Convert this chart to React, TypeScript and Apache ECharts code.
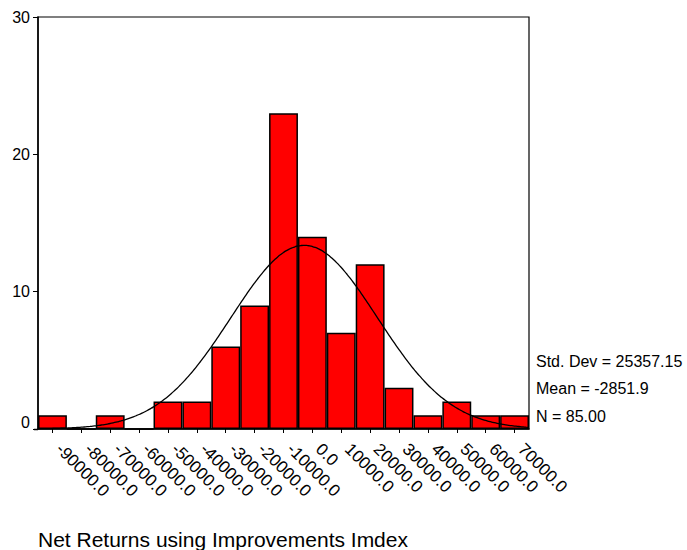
import React, { useEffect, useRef } from "react";
import * as echarts from "echarts";

// Bin centers of the histogram (width 10000)
const binCenters = [
  -90000, -80000, -70000, -60000, -50000, -40000, -30000, -20000, -10000,
  0, 10000, 20000, 30000, 40000, 50000, 60000, 70000,
];
const binLabels = binCenters.map((v) => v.toFixed(1));
const counts = [1, 0, 1, 0, 2, 2, 6, 9, 23, 14, 7, 12, 3, 1, 2, 1, 1];

// Summary statistics shown beside the plot
const stdDev = 25357.15;
const mean = -2851.9;
const n = 85;
const binWidth = 10000;

// Fitted normal curve scaled to counts per bin
function normalCurve(): [number, number][] {
  const pts: [number, number][] = [];
  const lo = binCenters[0] - binWidth / 2;
  const hi = binCenters[binCenters.length - 1] + binWidth / 2;
  for (let x = lo; x <= hi; x += 1000) {
    const z = (x - mean) / stdDev;
    const y = (n * binWidth) / (stdDev * Math.sqrt(2 * Math.PI)) * Math.exp(-0.5 * z * z);
    pts.push([x, y]);
  }
  return pts;
}

const FONT = "'Liberation Sans', Arial, sans-serif";

export default function App() {
  const ref = useRef<HTMLDivElement>(null);
  useEffect(() => {
    if (!ref.current) return;
    const chart = echarts.init(ref.current, null, { renderer: "svg" });
    const lo = binCenters[0] - binWidth / 2;
    const hi = binCenters[binCenters.length - 1] + binWidth / 2;
    chart.setOption({
      animation: false,
      backgroundColor: "#ffffff",
      textStyle: { fontFamily: FONT },
      grid: {
        left: 38,
        top: 17,
        right: 158,
        bottom: 121,
        show: true,
        borderColor: "#000",
        borderWidth: 1.2,
        backgroundColor: "transparent",
      },
      xAxis: [
        {
          type: "category",
          data: binLabels,
          boundaryGap: true,
          axisLine: { show: true, onZero: false, lineStyle: { color: "#000", width: 1.5 } },
          axisTick: { show: true, alignWithLabel: true, length: 4, lineStyle: { color: "#000", width: 1 } },
          axisLabel: {
            interval: 0,
            rotate: -45,
            margin: 11,
            padding: [0, 0, 0, 9],
            color: "#000",
            fontSize: 17,
            fontFamily: FONT,
          },
          splitLine: { show: false },
        },
        {
          type: "value",
          min: lo,
          max: hi,
          show: false,
        },
      ],
      yAxis: {
        type: "value",
        min: 0,
        max: 30,
        interval: 10,
        axisLine: { show: true, onZero: false, lineStyle: { color: "#000", width: 1.5 } },
        axisTick: { show: true, length: 5, lineStyle: { color: "#000", width: 1 } },
        axisLabel: {
          color: "#000",
          fontSize: 16,
          fontFamily: FONT,
          margin: 8,
          // the zero label sits a little above the baseline
          formatter: (v: number) => (v === 0 ? "{z|0}" : String(v)),
          rich: { z: { fontSize: 16, fontFamily: FONT, color: "#000", padding: [0, 0, 14, 0] } },
        },
        splitLine: { show: false },
      },
      series: [
        {
          type: "bar",
          xAxisIndex: 0,
          data: counts,
          barWidth: "100%",
          barGap: "0%",
          itemStyle: { color: "#ff0000", borderColor: "#000", borderWidth: 1.5 },
        },
        {
          type: "line",
          xAxisIndex: 1,
          data: normalCurve(),
          showSymbol: false,
          smooth: true,
          lineStyle: { color: "#000", width: 1.3 },
          z: 5,
        },
      ],
      graphic: [
        {
          type: "line",
          shape: { x1: 34, y1: 429.5, x2: 38, y2: 429.5 },
          style: { stroke: "#000", lineWidth: 1.5 },
        },
        {
          type: "text",
          left: 536,
          top: 353,
          style: { text: `Std. Dev = ${stdDev.toFixed(2)}`, fontSize: 16, fontFamily: FONT, fill: "#000" },
        },
        {
          type: "text",
          left: 536,
          top: 380,
          style: { text: `Mean = ${mean.toFixed(1)}`, fontSize: 16, fontFamily: FONT, fill: "#000" },
        },
        {
          type: "text",
          left: 536,
          top: 408,
          style: { text: `N = ${n.toFixed(2)}`, fontSize: 16, fontFamily: FONT, fill: "#000" },
        },
        {
          type: "text",
          left: 38,
          top: 529,
          style: { text: "Net Returns using Improvements Imdex", fontSize: 21, fontFamily: FONT, fill: "#000" },
        },
      ],
    });
    return () => chart.dispose();
  }, []);
  return <div ref={ref} style={{ width: 687, height: 550, position: "absolute", left: 0, top: 0 }} />;
}
